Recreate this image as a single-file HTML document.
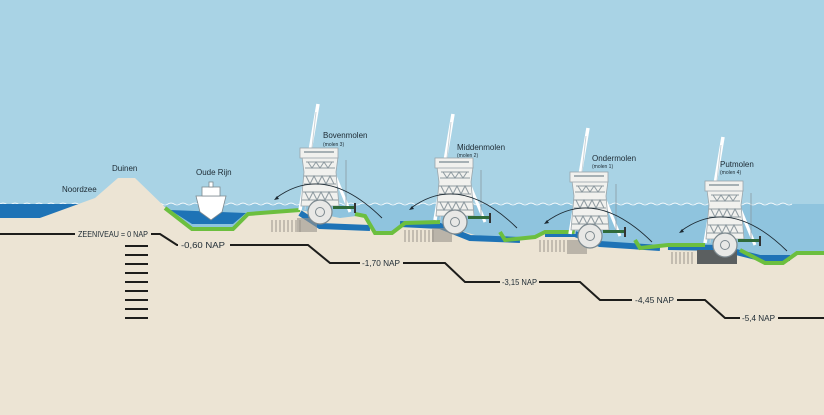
<!DOCTYPE html>
<html><head><meta charset="utf-8"><style>
html,body{margin:0;padding:0;width:824px;height:415px;overflow:hidden;background:#ece4d4}
svg{display:block}
text{font-family:"Liberation Sans",sans-serif;fill:#1d2a33}
</style></head><body>
<svg width="824" height="415" viewBox="0 0 824 415">
<defs>
<g id="mill">
  <line x1="-20" y1="-2" x2="-2" y2="-108" stroke="#fff" stroke-width="3.5"/>
  <line x1="-15" y1="-2" x2="-4" y2="-100" stroke="#c9d3d8" stroke-width="1"/>
  <line x1="6" y1="-58" x2="30" y2="0" stroke="#fff" stroke-width="3"/>
  <line x1="26" y1="-52" x2="26" y2="-5" stroke="#8a9aa3" stroke-width="0.8"/>
  <path d="M-18,-55 L-16,-40 L-19,-6 L19,-6 L16,-40 L18,-55 Z" fill="#f1f1ee" stroke="#9aa5aa" stroke-width="0.8"/>
  <rect x="-20" y="-64" width="38" height="10" fill="#f1f1ee" stroke="#9aa5aa" stroke-width="0.8"/>
  <path d="M-16,-60 h30" stroke="#8e9aa0" stroke-width="1.5"/>
  <g stroke="#8e9aa0" stroke-width="1" fill="none">
   <path d="M-14,-50 h28 M-15,-44 h30 M-16,-36 h32 M-16,-28 h32 M-17,-20 h34 M-18,-12 h36"/>
   <path d="M-12,-50 l4,6 l4,-6 l4,6 l4,-6 l4,6 l4,-6 M-14,-36 l4,8 l4,-8 l4,8 l4,-8 l4,8 l4,-8 l4,8 M-15,-20 l4,8 l4,-8 l4,8 l4,-8 l4,8 l4,-8 l4,8"/>
  </g>
  <circle cx="0" cy="0" r="12" fill="#e8e8e6" stroke="#7d898f" stroke-width="1.2"/>
  <circle cx="0" cy="0" r="4.5" fill="none" stroke="#7d898f" stroke-width="1"/>
  <rect x="13" y="-6" width="22" height="3" fill="#2f6b3a"/>
  <rect x="34" y="-9" width="2" height="10" fill="#333"/>
  <path d="M-44,-14 Q5,-50 62,6" fill="none" stroke="#1d2a33" stroke-width="0.9"/>
  <path d="M-46,-12 l5,-1 l-2,-3 z" fill="#1d2a33"/>
</g>
</defs>
<rect x="0" y="0" width="824" height="204" fill="#a9d3e5"/>
<rect x="0" y="204" width="824" height="80" fill="#8fc4de"/>
<path d="M0,204 q3,-2 6,0 t6,0 t6,0 t6,0 t6,0 t6,0 t6,0 t6,0 t6,0 t6,0 t6,0 t6,0 t6,0 t6,0 t6,0 t6,0 t6,0 t6,0 t6,0 t6,0 t6,0 t6,0 t6,0 t6,0 t6,0 t6,0 t6,0 t6,0 t6,0 t6,0 t6,0 t6,0 t6,0 t6,0 t6,0 t6,0 t6,0 t6,0 t6,0 t6,0 t6,0 t6,0 t6,0 t6,0 t6,0 t6,0 t6,0 t6,0 t6,0 t6,0 t6,0 t6,0 t6,0 t6,0 t6,0 t6,0 t6,0 t6,0 t6,0 t6,0 t6,0 t6,0 t6,0 t6,0 t6,0 t6,0 t6,0 t6,0 t6,0 t6,0 t6,0 t6,0 t6,0 t6,0 t6,0 t6,0 t6,0 t6,0 t6,0 t6,0 t6,0 t6,0 t6,0 t6,0 t6,0 t6,0 t6,0 t6,0 t6,0 t6,0 t6,0 t6,0 t6,0 t6,0 t6,0 t6,0 t6,0 t6,0 t6,0 t6,0 t6,0 t6,0 t6,0 t6,0 t6,0 t6,0 t6,0 t6,0 t6,0 t6,0 t6,0 t6,0 t6,0 t6,0 t6,0 t6,0 t6,0 t6,0 t6,0 t6,0 t6,0 t6,0 t6,0 t6,0 t6,0 t6,0 t6,0 t6,0 t6,0 t6,0 t6,0 t6,0" fill="none" stroke="#fff" stroke-width="0.8"/>
<polygon points="0,204 82,204 40,218 0,218" fill="#1e73b6"/>
<path d="M0,218 L40,218 L95,198 L118,178 L135,178 L168,210 L192,228 L233,228 L248,213 L300,210 L340,218 L365,215 L375,233 L392,233 L405,222 L440,225 L475,235 L505,238 L535,236 L545,232 L575,232 L600,242 L640,246 L668,245 L705,245 L740,252 L765,262 L783,262 L797,253 L824,253 L824,415 L0,415 Z" fill="#ece4d4"/>
<path d="M170,210 L192,224 L233,224 L246,213 Z" fill="#1e73b6"/>
<path d="M300,213 L320,226 L370,228" stroke="#1e73b6" stroke-width="6" fill="none"/>
<path d="M400,224 L440,226 L470,238 L520,240" stroke="#1e73b6" stroke-width="6" fill="none"/>
<path d="M545,234 L575,234 L600,244 L660,248" stroke="#1e73b6" stroke-width="6" fill="none"/>
<path d="M668,247 L720,248 L760,258 L790,258" stroke="#1e73b6" stroke-width="6" fill="none"/>
<polyline points="165,208 192,229 233,229 248,214 300,210" fill="none" stroke="#6cbf3f" stroke-width="4"/>
<polyline points="355,214 365,216 375,233 392,233 405,223 440,222" fill="none" stroke="#6cbf3f" stroke-width="4"/>
<polyline points="500,232 505,240 535,237 545,232 575,232" fill="none" stroke="#6cbf3f" stroke-width="4"/>
<polyline points="635,240 640,248 668,245 705,245" fill="none" stroke="#6cbf3f" stroke-width="4"/>
<polyline points="740,250 765,263 783,263 797,253 824,253" fill="none" stroke="#6cbf3f" stroke-width="4"/>
<g stroke="#9a958c" stroke-width="1">
<path d="M272,220 v12 M276,220 v12 M280,220 v12 M284,220 v12 M288,220 v12 M292,220 v12 M296,220 v12 M300,220 v12"/>
<path d="M405,230 v12 M409,230 v12 M413,230 v12 M417,230 v12 M421,230 v12 M425,230 v12 M429,230 v12 M433,230 v12"/>
<path d="M540,240 v12 M544,240 v12 M548,240 v12 M552,240 v12 M556,240 v12 M560,240 v12 M564,240 v12"/>
<path d="M672,252 v12 M676,252 v12 M680,252 v12 M684,252 v12 M688,252 v12 M692,252 v12"/>
</g>
<rect x="297" y="218" width="20" height="14" fill="#9a958c" opacity="0.6"/>
<rect x="432" y="228" width="20" height="14" fill="#9a958c" opacity="0.6"/>
<rect x="567" y="240" width="20" height="14" fill="#9a958c" opacity="0.6"/>
<rect x="697" y="250" width="40" height="14" fill="#5b5f60"/>
<path d="M196,196 L226,196 L222,212 L211,220 L200,212 Z" fill="#fff" stroke="#7d898f" stroke-width="0.8"/>
<rect x="202" y="187" width="18" height="9" fill="#fff" stroke="#7d898f" stroke-width="0.8"/>
<rect x="209" y="182" width="4" height="5" fill="#fff" stroke="#7d898f" stroke-width="0.8"/>
<use href="#mill" transform="translate(320,212)"/>
<use href="#mill" transform="translate(455,222)"/>
<use href="#mill" transform="translate(590,236)"/>
<use href="#mill" transform="translate(725,245)"/>
<g stroke="#1d1d1b" stroke-width="2" fill="none">
<path d="M0,234 H75"/>
<path d="M151,234 H160 L177,245 H178"/>
<path d="M230,245 H308 L330,263 H360"/>
<path d="M403,263 H445 L465,282 H500"/>
<path d="M539,282 H580 L600,300 H632"/>
<path d="M677,300 H705 L725,318 H740"/>
<path d="M778,318 H824"/>
<path d="M125,246 h23 M125,255 h23 M125,264 h23 M125,273 h23 M125,282 h23 M125,291 h23 M125,300 h23 M125,309 h23 M125,318 h23"/>
</g>
<g font-size="8">
<text x="78" y="237" textLength="70" lengthAdjust="spacingAndGlyphs">ZEENIVEAU = 0 NAP</text>
<text x="181" y="248" textLength="44" lengthAdjust="spacingAndGlyphs">-0,60 NAP</text>
<text x="362" y="266" textLength="38" lengthAdjust="spacingAndGlyphs">-1,70 NAP</text>
<text x="502" y="285" textLength="35" lengthAdjust="spacingAndGlyphs">-3,15 NAP</text>
<text x="635" y="303" textLength="39" lengthAdjust="spacingAndGlyphs">-4,45 NAP</text>
<text x="742" y="321" textLength="33" lengthAdjust="spacingAndGlyphs">-5,4 NAP</text>
<text x="62" y="192">Noordzee</text>
<text x="112" y="171">Duinen</text>
<text x="196" y="175">Oude Rijn</text>
<text x="323" y="138">Bovenmolen</text>
<text x="457" y="150">Middenmolen</text>
<text x="592" y="161">Ondermolen</text>
<text x="720" y="167">Putmolen</text>
</g>
<g font-size="5">
<text x="323" y="146">(molen 3)</text>
<text x="457" y="157">(molen 2)</text>
<text x="592" y="168">(molen 1)</text>
<text x="720" y="174">(molen 4)</text>
</g>
</svg>
</body></html>
